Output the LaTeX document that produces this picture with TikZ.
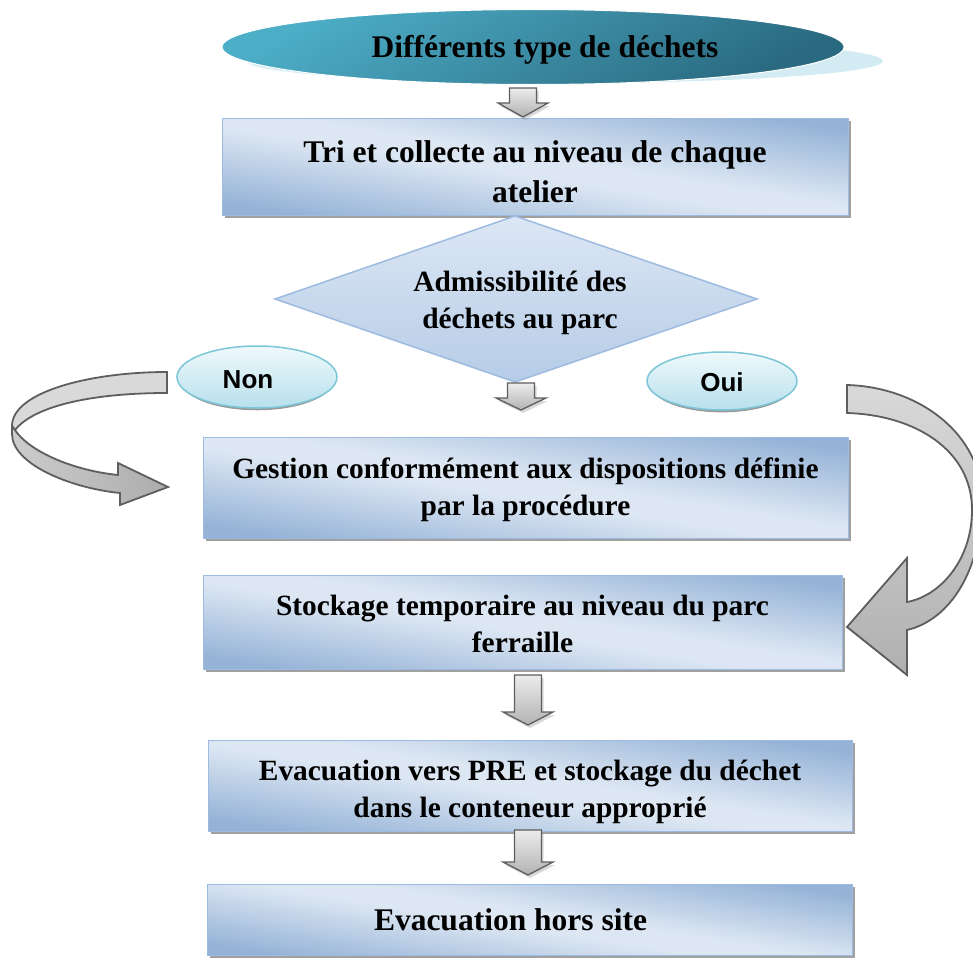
\documentclass[tikz,border=0pt]{standalone}
\usepackage{fontspec}
\setmainfont{Liberation Serif}
\newfontfamily\choicefont{Liberation Sans}
\usetikzlibrary{calc,shapes.geometric,shadows}

\definecolor{boxdark}{HTML}{95B3D7}
\definecolor{boxlight}{HTML}{DDE7F3}
\definecolor{boxedge}{HTML}{9DBBE0}
\definecolor{tealtop}{HTML}{4DAEC7}
\definecolor{tealbot}{HTML}{2A6A80}
\definecolor{tealshadow}{HTML}{D3ECF4}
\definecolor{choicetop}{HTML}{EFF9FC}
\definecolor{choicebot}{HTML}{B7E0EC}
\definecolor{choiceedge}{HTML}{7CC6D8}
\definecolor{diamtop}{HTML}{DCE7F4}
\definecolor{diambot}{HTML}{B6CCE7}
\definecolor{arrowedge}{HTML}{5E5E5E}

% diagonal two-sided gradient of the step boxes
\pgfdeclareverticalshading{stepshade}{100bp}{color(0bp)=(boxdark); color(25bp)=(boxdark);
  color(47bp)=(boxlight); color(53bp)=(boxlight); color(75bp)=(boxdark); color(100bp)=(boxdark)}

\newcommand\flowbig{\fontsize{31.5}{40}\selectfont\bfseries}
\newcommand\flowmid{\fontsize{29.4}{37}\selectfont\bfseries}

% block arrow pointing down, from #1 to the tip #2, head length #3
\newcommand\blockdown[3]{%
  \path[blockarrow] let \p1=(#1), \p2=(#2) in
    (\x1-13.5pt,\y1) -- (\x1+13.5pt,\y1) -- (\x1+13.5pt,\y2+#3pt)
    -- (\x1+25pt,\y2+#3pt) -- (\x2,\y2) -- (\x1-25pt,\y2+#3pt)
    -- (\x1-13.5pt,\y2+#3pt) -- cycle;}

\begin{document}
\begin{tikzpicture}[x=1pt,y=-1pt,
  stepbox/.style={rectangle, draw=boxedge, line width=1pt,
    shade, shading=stepshade, shading angle=-9,
    drop shadow={shadow xshift=3pt, shadow yshift=-3pt, fill=gray, opacity=.75},
    align=center, inner sep=0pt},
  titleoval/.style={ellipse, draw=white, line width=1pt,
    top color=tealtop, bottom color=tealbot, shading angle=30,
    inner sep=0pt, font=\flowbig},
  choice/.style={ellipse, draw=choiceedge, line width=1.5pt,
    top color=choicetop, bottom color=choicebot,
    drop shadow={shadow xshift=0pt, shadow yshift=-4pt, shadow scale=.95, fill=gray, opacity=.8},
    inner sep=0pt, font=\choicefont\bfseries\fontsize{26}{30}\selectfont},
  diamondfill/.style={draw=boxedge, line width=1.5pt, top color=diamtop, bottom color=diambot},
  blockarrow/.style={draw=arrowedge, line width=1.3pt, top color=gray!15, bottom color=gray!60,
    drop shadow={shadow xshift=2pt, shadow yshift=-3pt, opacity=.3}},
  ribbonlight/.style={draw=arrowedge, line width=1.8pt, fill=gray!30},
  ribbondark/.style={draw=arrowedge, line width=1.8pt, left color=gray!40, right color=gray!65},
  ribbonright/.style={draw=arrowedge, line width=1.8pt, top color=gray!30, bottom color=gray!62}
]
\useasboundingbox (0,0) rectangle (973,958);

% title oval with its offset light shadow
\fill[tealshadow] (565,61) ellipse [x radius=318pt, y radius=22pt];
\node[titleoval, minimum width=622pt, minimum height=75pt] (title) at (533,47)
  {\rule{0pt}{27pt}\hspace*{24pt}Différents type de déchets};

% process steps
\node[stepbox, minimum width=626pt, minimum height=97pt, font=\flowbig] (tri) at (535,166.5)
  {\rule{0pt}{33pt}Tri et collecte au niveau de chaque\\atelier};
\node[stepbox, minimum width=645pt, minimum height=101pt, font=\flowmid] (gestion) at (525.5,487.5)
  {\rule{0pt}{25pt}Gestion conformément aux dispositions définie\\par la procédure};
\node[stepbox, minimum width=639pt, minimum height=94pt, font=\flowmid] (stockage) at (522.5,622)
  {\rule{0pt}{25pt}Stockage temporaire au niveau du parc\\ferraille};
\node[stepbox, minimum width=644pt, minimum height=91pt, font=\flowmid] (evac) at (530,785.5)
  {\rule{0pt}{33pt}Evacuation vers PRE et stockage du déchet\\dans le conteneur approprié};
\node[stepbox, minimum width=645pt, minimum height=71pt, font=\flowbig] (hors) at (529.5,919.5)
  {Evacuation hors site\hspace*{38pt}};

% decision diamond
\coordinate (dT) at (515,216);
\coordinate (dR) at (757,299);
\coordinate (dB) at (515,382);
\coordinate (dL) at (275,299);
\path[diamondfill] (dT) -- (dR) -- (dB) -- (dL) -- cycle;
\node[align=center, font=\flowmid, inner sep=0pt] (adm) at (520,303)
  {Admissibilité des\\déchets au parc};

% answers
\node[choice, minimum width=160pt, minimum height=62pt] (non) at (257,377) {\rule{0pt}{24pt}Non\hspace*{18pt}};
\node[choice, minimum width=150pt, minimum height=58pt] (oui) at (722,381) {\rule{0pt}{22pt}Oui};

% straight block arrows
\coordinate (a1s) at (523,88);  \coordinate (a1e) at (523,117);
\coordinate (a2s) at (521,383); \coordinate (a2e) at (521,410);
\coordinate (a3s) at (528,675); \coordinate (a3e) at (528,725);
\coordinate (a4s) at (528,830); \coordinate (a4e) at (528,875);
\blockdown{a1s}{a1e}{14}
\blockdown{a2s}{a2e}{12}
\blockdown{a3s}{a3e}{13}
\blockdown{a4s}{a4e}{13}

% curved arrow on the "Non" side, drawn as a folded ribbon
\path[ribbonlight] (167,372) .. controls (90,372) and (12,392) .. (12,426)
  -- (15,430) .. controls (35,405) and (95,393) .. (167,393) -- cycle;
\path[ribbondark] (12,426) -- (12,434) .. controls (12,464) and (70,488) .. (120,493)
  -- (120,505) -- (168,487) -- (118,463) -- (118,475)
  .. controls (70,470) and (28,450) .. (15,430) -- cycle;

% curved arrow on the "Oui" side
\path[ribbonright] (847,385) .. controls (920,387) and (982,435) .. (982,500)
  .. controls (982,570) and (950,620) .. (907,630)
  -- (907,675) -- (847,627) -- (907,558) -- (907,602)
  .. controls (940,596) and (972,560) .. (972,510)
  .. controls (972,450) and (915,415) .. (847,413) -- cycle;
\end{tikzpicture}
\end{document}
